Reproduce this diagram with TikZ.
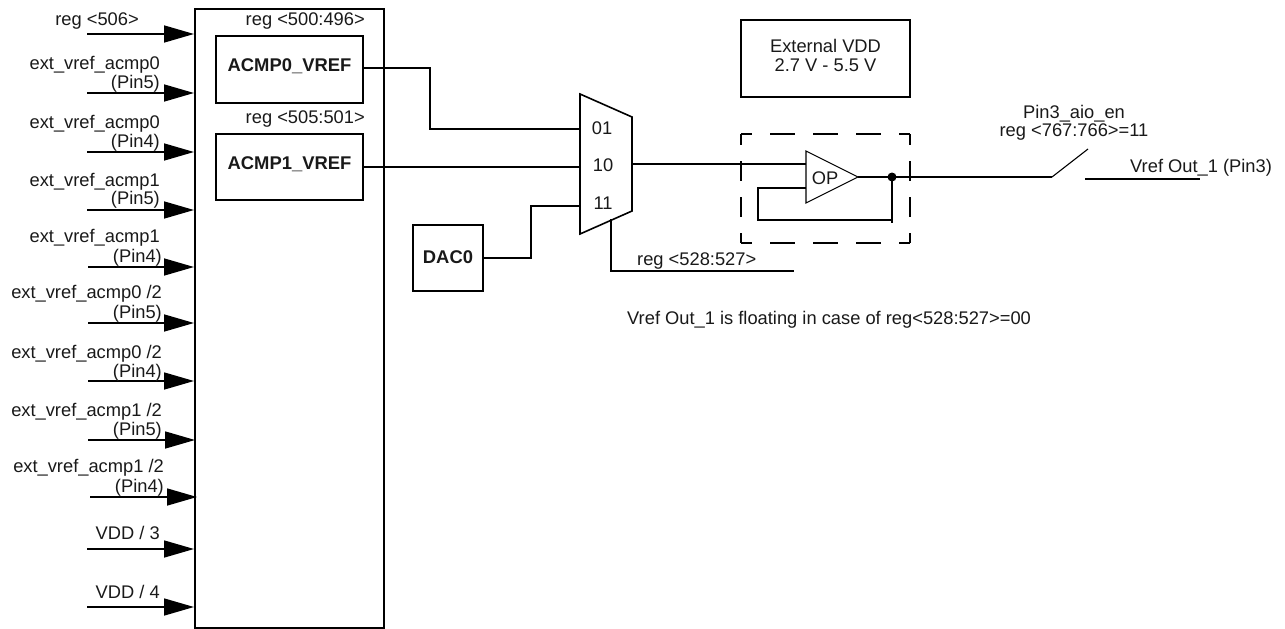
\documentclass[tikz,border=0pt]{standalone}
\usepackage{fontspec}
\setmainfont{Liberation Sans}
\usetikzlibrary{arrows.meta}
\tikzset{
 x=1pt,y=-1pt,
 lw/.style={line width=1.6pt,line cap=butt},
 boxn/.style={draw,lw,inner sep=0pt,outer sep=0pt,anchor=north west},
 txt/.style={inner sep=0pt,font=\fontsize{18.3}{18}\selectfont,text=black!90},
 btxt/.style={txt,font=\fontsize{18.4}{18}\selectfont\bfseries},
 inarrow/.style={lw,-{Triangle[length=30pt,width=17pt]}},
 conn/.style={lw},
 thinconn/.style={line width=1.1pt},
 hdash/.style={lw,dash pattern=on 25pt off 18pt,dash phase=14pt},
 vdash/.style={lw,dash pattern=on 20pt off 16pt,dash phase=9pt},
}
\begin{document}
\begin{tikzpicture}
\useasboundingbox (0,0) rectangle (1285,629);
% main box
\node[boxn,minimum width=189pt,minimum height=619pt] (main) at (195,9) {};
\node[boxn,minimum width=147pt,minimum height=67pt] (acmpz) at (216,36) {};
\node[btxt] at (289.5,66.5) {ACMP0\_VREF};
\node[boxn,minimum width=147pt,minimum height=66pt] (acmpo) at (216,134) {};
\node[btxt] at (289.5,164) {ACMP1\_VREF};
\node[txt,anchor=base east] at (365,25.5) {reg <500:496>};
\node[txt,anchor=base east] at (365,123) {reg <505:501>};
% inputs
\foreach \nm/\yy/\xs/\xe in {a/34/87/194,b/93/87/194,c/152/87/194,d/210/87/194,e/267/88/194,f/323/88/194,g/381/88/194,h/440/88/195,i/497/90/197,j/549/87/194,k/607/87/194}{
 \coordinate (s\nm) at (\xs,\yy);
 \coordinate (e\nm) at (\xe,\yy);
 \draw[inarrow] (s\nm) -- (e\nm);
}
\node[txt,anchor=base east] at (139,25) {reg <506>};
\node[txt,anchor=base east] at (160,69) {ext\_vref\_acmp0};
\node[txt,anchor=base east] at (160,88) {(Pin5)};
\node[txt,anchor=base east] at (160,128) {ext\_vref\_acmp0};
\node[txt,anchor=base east] at (160,147) {(Pin4)};
\node[txt,anchor=base east] at (160,186) {ext\_vref\_acmp1};
\node[txt,anchor=base east] at (160,204) {(Pin5)};
\node[txt,anchor=base east] at (160,242) {ext\_vref\_acmp1};
\node[txt,anchor=base east] at (162,262) {(Pin4)};
\node[txt,anchor=base east] at (162,298) {ext\_vref\_acmp0 /2};
\node[txt,anchor=base east] at (162,318) {(Pin5)};
\node[txt,anchor=base east] at (162,358) {ext\_vref\_acmp0 /2};
\node[txt,anchor=base east] at (162,377) {(Pin4)};
\node[txt,anchor=base east] at (162,416) {ext\_vref\_acmp1 /2};
\node[txt,anchor=base east] at (162,435) {(Pin5)};
\node[txt,anchor=base east] at (164,472) {ext\_vref\_acmp1 /2};
\node[txt,anchor=base east] at (164,492) {(Pin4)};
\node[txt,anchor=base east] at (160,539) {VDD / 3};
\node[txt,anchor=base east] at (160,598) {VDD / 4};
% mux
\coordinate (mtl) at (580,94);
\coordinate (mtr) at (632,117);
\coordinate (mbr) at (632,211);
\coordinate (mbl) at (580,234);
\draw[lw,line join=miter] (mtl) -- (mtr) -- (mbr) -- (mbl) -- cycle;
\node[txt] at (602,128) {01};
\node[txt] at (603,165) {10};
\node[txt] at (603,203) {11};
\coordinate (mia) at (580,129);
\coordinate (mib) at (580,167);
\coordinate (mic) at (580,206);
\coordinate (mout) at (632,164);
\coordinate (msel) at (611,219);
\coordinate (zout) at (363,68);
\draw[conn] (zout) -| (430,129) -- (mia);
\draw[conn] (acmpo.east) -- (mib);
\node[boxn,minimum width=70pt,minimum height=66pt] (dac) at (413,225) {};
\node[btxt] at (448,257.5) {DAC0};
\draw[conn] (dac.east) -| (531,206) -- (mic);
\coordinate (regend) at (794,271);
\draw[conn] (msel) |- (regend);
\node[txt,anchor=base west] at (637,265) {reg <528:527>};
% external VDD
\node[boxn,minimum width=169pt,minimum height=77pt] (vdd) at (741,20) {};
\node[txt,align=center] at (825.5,55.5) {External VDD\\[1pt]2.7 V - 5.5 V};
% dashed
\draw[hdash] (741,134) -- (910,134);
\draw[hdash] (741,243) -- (910,243);
\draw[vdash] (741,134) -- (741,243);
\draw[vdash] (910,134) -- (910,243);
% op
\coordinate (opa) at (806,151);
\coordinate (opb) at (858,177);
\coordinate (opc) at (806,203);
\draw[thinconn] (opa) -- (opb) -- (opc) -- cycle;
\node[txt] at (825,178) {OP};
\coordinate (opin) at (806,164);
\coordinate (opfb) at (806,188);
\coordinate (dot) at (892,177);
\coordinate (swa) at (1052,177);
\coordinate (swb) at (1088,149);
\coordinate (fbend) at (892,223);
\draw[conn] (mout) -- (opin);
\draw[conn] (opb) -- (swa);
\draw[thinconn] (swa) -- (swb);
\fill (dot) circle (4.5pt);
\draw[conn] (dot) -- (fbend);
\draw[conn] (892,220) -- (758,220) -- (758,188) -- (opfb);
\coordinate (outa) at (1085,179);
\coordinate (outb) at (1200,179);
\draw[conn] (outa) -- (outb);
\node[txt,align=center] at (1074,123) {Pin3\_aio\_en\\reg <767:766>=11};
\node[txt,anchor=base west] at (1130,172) {Vref Out\_1 (Pin3)};
\node[txt,anchor=base west] at (627,324) {Vref Out\_1 is floating in case of reg<528:527>=00};
\end{tikzpicture}
\end{document}
